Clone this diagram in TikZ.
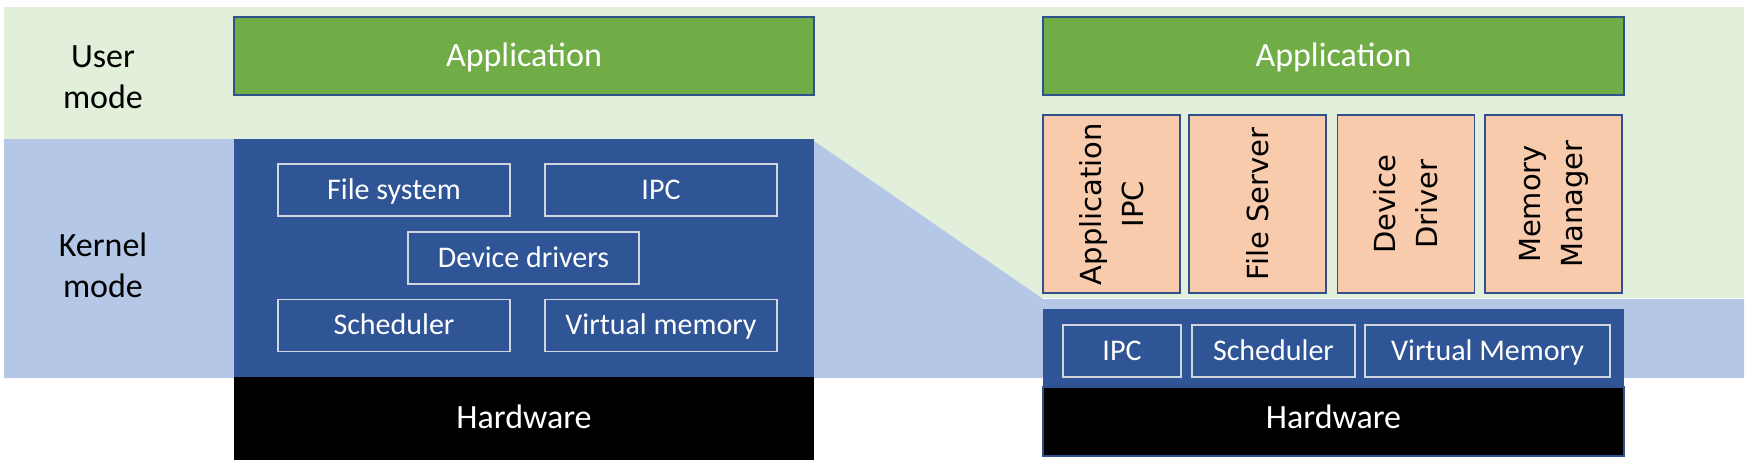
\documentclass[tikz,border=0pt]{standalone}
\usepackage{fontspec}
\setmainfont{Carlito}
\newfontfamily\vfont{DejaVu Sans}
\definecolor{lgreen}{HTML}{E2EFDA}
\definecolor{lblue}{HTML}{B4C7E7}
\definecolor{kblue}{HTML}{2F5597}
\definecolor{bordb}{HTML}{2F528F}
\definecolor{appg}{HTML}{70AD47}
\definecolor{orng}{HTML}{F8CBAD}
\definecolor{innerb}{HTML}{D0D5DE}
\begin{document}
\begin{tikzpicture}[x=0.5pt,y=-0.5pt,
  bigc/.style={text height=10pt, text depth=0pt},
  smallc/.style={text height=9.2pt, text depth=0pt},
  appbox/.style={fill=appg, draw=bordb, line width=1.2pt, text=white, inner sep=0pt, bigc,
    font=\fontsize{17}{20}\selectfont, minimum width=290pt, minimum height=39pt},
  kernbox/.style={fill=kblue, inner sep=0pt, minimum width=290pt},
  hwbox/.style={fill=black, text=white, inner sep=0pt, bigc, font=\fontsize{17}{20}\selectfont, minimum width=290pt},
  innerbox/.style={fill=kblue, draw=innerb, line width=0.8pt, text=white, inner sep=0pt, smallc,
    font=\fontsize{15}{18}\selectfont, minimum height=26pt},
  svcbox/.style={fill=orng, draw=bordb, line width=0.9pt, rotate=90, inner sep=0pt, align=center,
    font=\vfont\fontsize{14.5}{21}\selectfont, minimum width=89pt, minimum height=68.5pt},
  modelabel/.style={align=center, font=\fontsize{17}{20.5}\selectfont, text=black}
]
\useasboundingbox (0,0) rectangle (1746,462);
% background bands
\fill[lgreen] (4,7) rectangle (1744,298);
\fill[lblue] (4,139) -- (814,139) -- (814,141) -- (1043,299) -- (1744,299) -- (1744,378) -- (4,378) -- cycle;
% mode labels
\node[modelabel] (umode) at (103,77) {User\\mode};
\node[modelabel] (kmode) at (103,265) {Kernel\\mode};
% left: monolithic kernel
\node[appbox] (lapp) at (524,56) {Application};
\node[kernbox, minimum height=119pt] (lkern) at (524,258) {};
\node[hwbox, minimum height=41.5pt] (lhw) at (524,418.5) {Hardware};
\node[innerbox, minimum width=116pt] (fs) at (394,190) {File system};
\node[innerbox, minimum width=116pt] (lipc) at (661,190) {IPC};
\node[innerbox, minimum width=115.5pt] (dd) at (523.5,258) {Device drivers};
\node[innerbox, minimum width=116pt] (lsch) at (394,325.5) {Scheduler};
\node[innerbox, minimum width=116pt] (lvm) at (661,325.5) {Virtual memory};
% right: microkernel
\node[appbox, minimum width=290.5pt] (rapp) at (1333.5,56) {Application};
\node[svcbox] (aipc) at (1111.5,204) {Application\\IPC};
\node[svcbox] (fsrv) at (1257.5,204) {File Server};
\node[svcbox] (ddrv) at (1406,204) {Device\\Driver};
\node[svcbox] (mmgr) at (1553.5,204) {Memory\\Manager};
\node[kernbox, minimum width=290.5pt, minimum height=39pt] (rkern) at (1333.5,348) {};
\node[hwbox, draw=bordb, line width=1.2pt, minimum width=290.5pt, minimum height=34.5pt] (rhw) at (1333.5,421.5) {};
\node[text=white, inner sep=0pt, bigc, font=\fontsize{17}{20}\selectfont] (rhwt) at (1333.5,418) {Hardware};
\node[innerbox, minimum width=59pt] (ripc) at (1122,351) {IPC};
\node[innerbox, minimum width=81.5pt] (rsch) at (1273.5,351) {Scheduler};
\node[innerbox, minimum width=122.5pt] (rvm) at (1487.5,351) {Virtual Memory};
\end{tikzpicture}
\end{document}
